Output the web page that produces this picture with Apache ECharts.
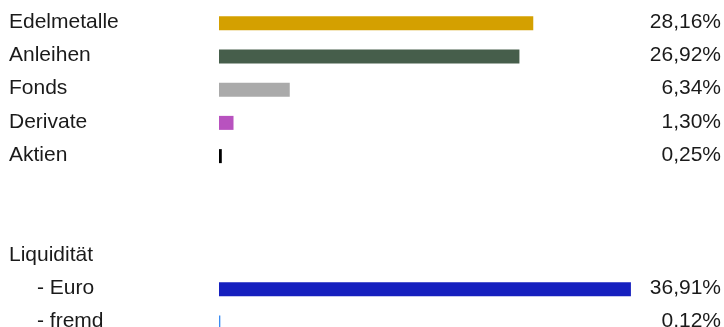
<!DOCTYPE html>
<html>
<head>
<meta charset="utf-8">
<script src="https://cdn.jsdelivr.net/npm/echarts@6/dist/echarts.min.js"></script>
<style>
html,body{margin:0;padding:0;background:#fff;}
#chart{width:724px;height:327px;}
</style>
</head>
<body>
<div id="chart"></div>
<script>
const categories = ['Edelmetalle', 'Anleihen', 'Fonds', 'Derivate', 'Aktien', '', '', 'Liquidität', '- Euro', '- fremd'];
const values = [28.16, 26.92, 6.34, 1.30, 0.25, null, null, null, 36.91, 0.12];
const barColors = ['#D4A000', '#465E4B', '#AAAAAA', '#B852BF', '#000000', null, null, null, '#1620BF', '#3A8CF2'];
const indented = [false, false, false, false, false, false, false, false, true, true];

const valueLabels = values.map(v => v == null ? '' : v.toFixed(2).replace('.', ',') + '%');

const FONT = 'Liberation Sans, Arial, sans-serif';
const FS = 21;
const TEXT = '#1a1a1a';

const chart = echarts.init(document.getElementById('chart'));
chart.setOption({
  animation: false,
  backgroundColor: '#ffffff',
  grid: { left: 219, top: 6.5, width: 446.4, height: 332.5, containLabel: false, outerBoundsMode: 'none' },
  xAxis: {
    type: 'value', min: 0, max: 40,
    show: false
  },
  yAxis: [
    {
      type: 'category', data: categories, inverse: true,
      axisLine: { show: false }, axisTick: { show: false }, splitLine: { show: false },
      axisLabel: {
        align: 'left', margin: 210, color: TEXT, fontFamily: FONT, fontSize: FS,
        padding: [0, 0, 2, 0],
        formatter: (v, i) => indented[i] ? '{ind|' + v + '}' : v,
        rich: { ind: { padding: [0, 0, 0, 28], color: TEXT, fontFamily: FONT, fontSize: FS } }
      }
    },
    {
      type: 'category', data: valueLabels, inverse: true, position: 'right',
      axisLine: { show: false }, axisTick: { show: false }, splitLine: { show: false },
      axisLabel: {
        align: 'right', margin: 55.6, color: TEXT, fontFamily: FONT, fontSize: FS,
        padding: [0, 0, 2, 0],
        formatter: v => v,
        rich: { v: { color: TEXT, fontFamily: FONT, fontSize: FS } }
      }
    }
  ],
  series: [{
    type: 'bar',
    barWidth: 14,
    data: values.map((v, i) => ({ value: v, itemStyle: { color: barColors[i] } })),
    silent: true
  }]
});
</script>
</body>
</html>
